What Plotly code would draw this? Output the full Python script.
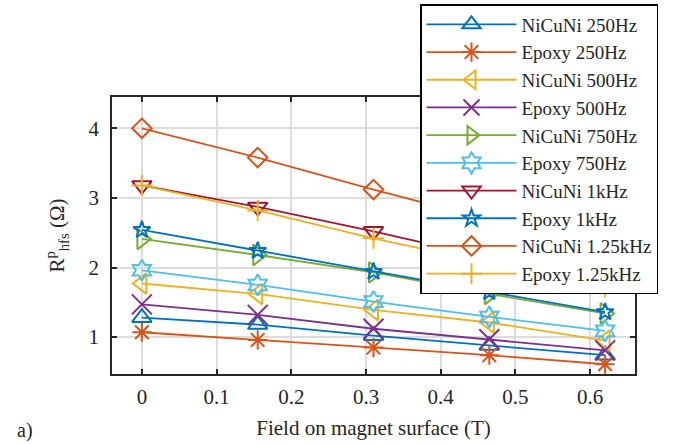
import plotly.graph_objects as go

field = [0, 0.155, 0.31, 0.465, 0.62]

names = ["NiCuNi 250Hz", "Epoxy 250Hz", "NiCuNi 500Hz", "Epoxy 500Hz", "NiCuNi 750Hz",
         "Epoxy 750Hz", "NiCuNi 1kHz", "Epoxy 1kHz", "NiCuNi 1.25kHz", "Epoxy 1.25kHz"]

nicuni_250 = [1.28, 1.18, 1.02, 0.88, 0.74]
epoxy_250 = [1.07, 0.96, 0.85, 0.74, 0.61]
nicuni_500 = [1.77, 1.62, 1.39, 1.21, 0.95]
epoxy_500 = [1.47, 1.32, 1.12, 0.97, 0.81]
nicuni_750 = [2.41, 2.18, 1.93, 1.62, 1.34]
epoxy_750 = [1.96, 1.75, 1.51, 1.29, 1.09]
nicuni_1k = [3.18, 2.87, 2.52, 2.14, 1.78]
epoxy_1k = [2.54, 2.24, 1.94, 1.65, 1.36]
nicuni_1250 = [4.00, 3.58, 3.12, 2.68, 2.25]
epoxy_1250 = [3.18, 2.82, 2.42, 2.06, 1.72]

series = [nicuni_250, epoxy_250, nicuni_500, epoxy_500, nicuni_750,
          epoxy_750, nicuni_1k, epoxy_1k, nicuni_1250, epoxy_1250]

colors = ["#0072BD", "#D95319", "#EDB120", "#7E2F8E", "#77AC30",
          "#4DBEEE", "#A2142F", "#0072BD", "#D95319", "#EDB120"]
symbols = ["triangle-up-open", "asterisk-open", "triangle-left-open", "x-thin-open",
           "triangle-right-open", "hexagram-open", "triangle-down-open", "star-open",
           "diamond-open", "cross-thin-open"]
sizes = [17, 16, 18, 20, 18, 16, 17, 13, 15, 15]

FONT = "Liberation Serif, Times New Roman, serif"

fig = go.Figure()
for name, ys, c, s, sz in zip(names, series, colors, symbols, sizes):
    fig.add_trace(go.Scatter(
        x=field, y=ys, name=name, mode="lines+markers",
        line=dict(color=c, width=1.8),
        marker=dict(symbol=s, size=sz, color=c, line=dict(color=c, width=2)),
    ))

axis_common = dict(
    showline=True, linecolor="#262626", linewidth=1.5, mirror="ticks",
    ticks="inside", ticklen=5, tickwidth=1.5, tickcolor="#262626",
    showgrid=True, gridcolor="#DCDCDC", gridwidth=1.5, zeroline=False,
    tickfont=dict(family=FONT, size=21, color="#262626"),
    automargin=False,
)

fig.update_layout(
    width=683, height=444,
    margin=dict(l=112, r=48, t=97, b=70, autoexpand=False),
    paper_bgcolor="white", plot_bgcolor="white",
    font=dict(family=FONT, color="#262626"),
    xaxis=dict(range=[-0.04, 0.66], tickvals=[0, 0.1, 0.2, 0.3, 0.4, 0.5, 0.6],
               ticktext=["0", "0.1", "0.2", "0.3", "0.4", "0.5", "0.6"],
               ticklabelstandoff=3,
               title=dict(text="Field on magnet surface (T)", font=dict(family=FONT, size=21), standoff=12),
               **axis_common),
    yaxis=dict(range=[0.47, 4.45], tickvals=[1, 2, 3, 4],
               ticklabelstandoff=7,
               title=dict(text="R<sup>p</sup><sub>hfs</sub> (Ω)", font=dict(family=FONT, size=21), standoff=18),
               **axis_common),
    legend=dict(xref="container", yref="container", x=420 / 683, y=1 - 4 / 444,
                xanchor="left", yanchor="top", maxheight=2000,
                bgcolor="white", bordercolor="black", borderwidth=1.5,
                font=dict(family=FONT, size=19, color="#262626"),
                itemwidth=90, tracegroupgap=0),
    showlegend=True,
    annotations=[dict(text="a)", xref="paper", yref="paper",
                      x=-(112 - 15) / 523.0, y=-(430 - 374) / 277.0,
                      showarrow=False, xanchor="left", yanchor="middle",
                      font=dict(family=FONT, size=20, color="#262626"))],
)

fig.write_html("out.html", config={"displayModeBar": False},
               post_script="document.body.style.margin='0px';")
